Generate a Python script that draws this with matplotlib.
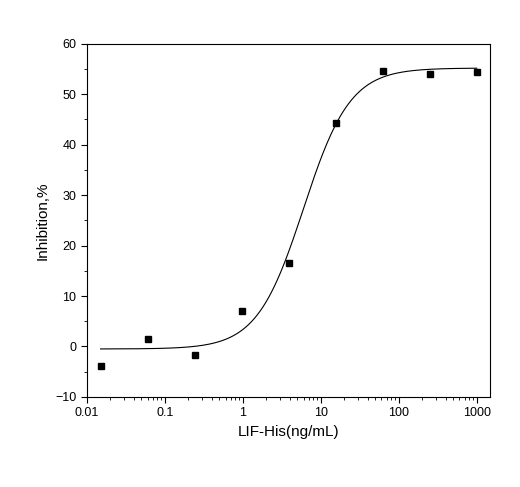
import numpy as np
import matplotlib
matplotlib.use("Agg")
import matplotlib.pyplot as plt
from matplotlib.ticker import LogLocator, FixedLocator, FixedFormatter, MultipleLocator

plt.rcParams['font.family'] = ['Liberation Sans', 'DejaVu Sans']

conc = [0.0153, 0.061, 0.244, 0.977, 3.9, 15.6, 62.5, 250, 1000]
inhib = [-3.8, 1.4, -1.6, 7.0, 16.6, 44.4, 54.7, 54.0, 54.5]
# 4PL fit parameters
bottom, top, ec50, hill = -0.5, 55.2, 6.0, 1.45

fig = plt.figure(figsize=(5.2, 4.87), dpi=100)
ax = fig.add_axes([0.167, 0.185, 0.775, 0.725])
xs = np.logspace(np.log10(0.015), 3, 400)
ys = bottom + (top - bottom) / (1 + (ec50 / xs) ** hill)
ax.plot(xs, ys, color='black', lw=0.8)
ax.plot(conc, inhib, 's', color='black', ms=4.5)
ax.set_xscale('log')
ax.set_xlim(0.01, 1470)
ax.set_ylim(-10, 60)
ticks = [0.01, 0.1, 1, 10, 100, 1000]
ax.xaxis.set_major_locator(FixedLocator(ticks))
ax.xaxis.set_major_formatter(FixedFormatter(['0.01', '0.1', '1', '10', '100', '1000']))
ax.xaxis.set_minor_locator(LogLocator(base=10, subs=np.arange(2, 10)))
ax.xaxis.set_minor_formatter(FixedFormatter([]))
ax.yaxis.set_major_locator(MultipleLocator(10))
ax.yaxis.set_minor_locator(MultipleLocator(5))
ax.tick_params(which='major', length=4, width=0.8, labelsize=9)
ax.tick_params(which='minor', length=2, width=0.6)
for s in ax.spines.values():
    s.set_linewidth(0.8)
ax.set_xlabel('LIF-His(ng/mL)', fontsize=11)
ax.set_ylabel('Inhibition,%', fontsize=11)
fig.savefig('out.png', dpi=100)
